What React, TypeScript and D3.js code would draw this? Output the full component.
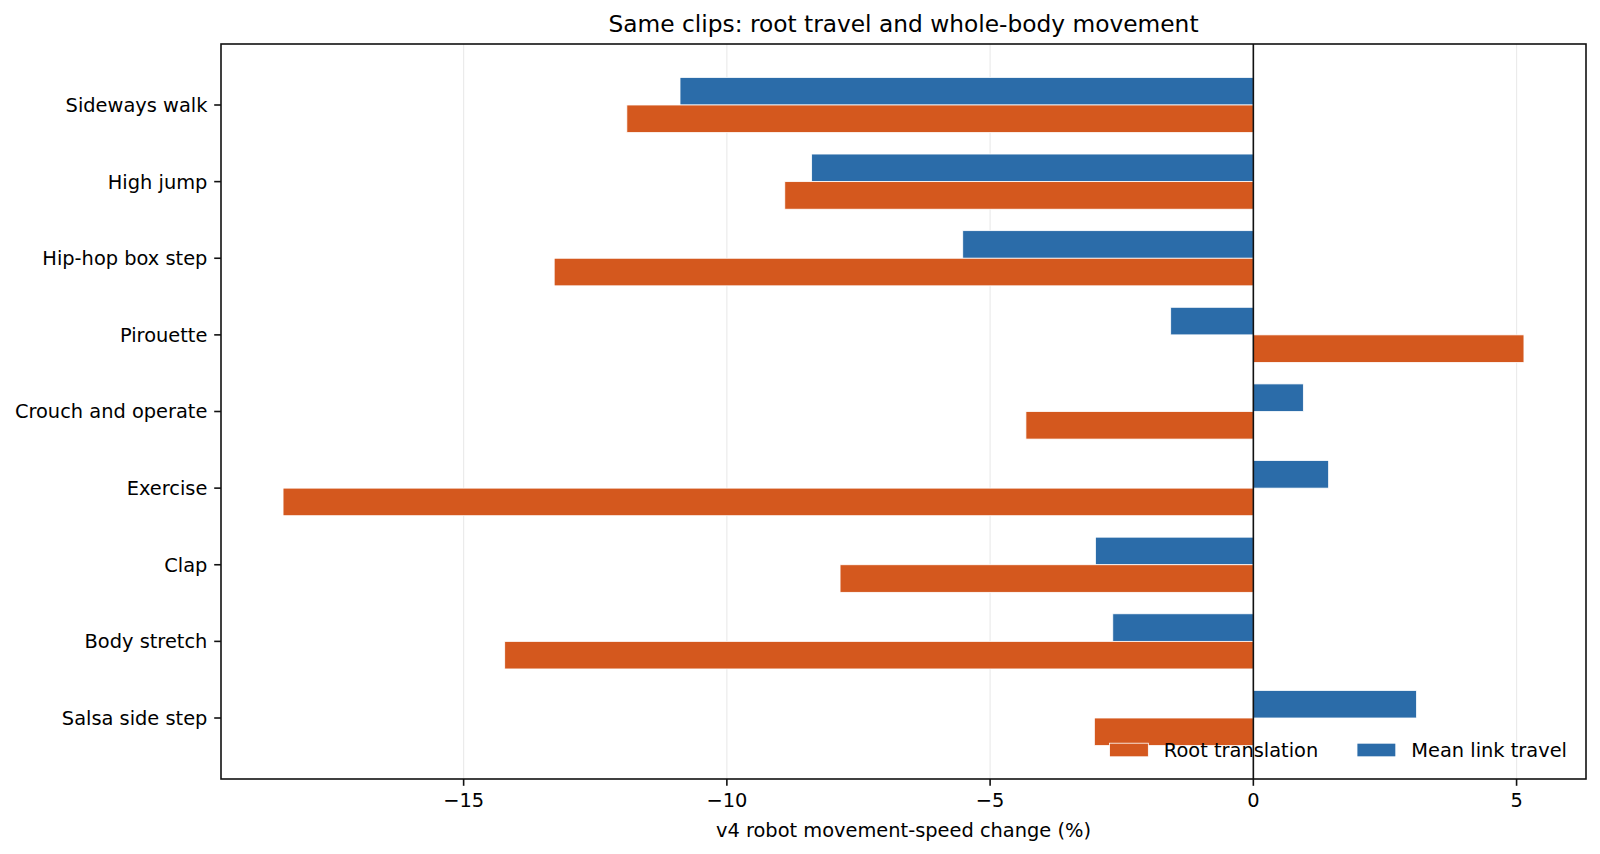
import React, { useEffect, useRef } from "react"
import * as d3 from "d3"

const WIDTH = 1600
const HEIGHT = 854
const MARGIN = { top: 44, right: 14, bottom: 75, left: 221 }

const categories = [
    "Sideways walk",
    "High jump",
    "Hip-hop box step",
    "Pirouette",
    "Crouch and operate",
    "Exercise",
    "Clap",
    "Body stretch",
    "Salsa side step",
]
const rootTranslation = [-11.9, -8.9, -13.28, 5.14, -4.32, -18.43, -7.85, -14.22, -3.02]
const meanLinkTravel = [-10.89, -8.39, -5.52, -1.57, 0.95, 1.43, -3.0, -2.67, 3.1]
const xTicks = [-15, -10, -5, 0, 5]

const ORANGE = "#d4581e"
const BLUE = "#2b6ca9"
const FONT = "DejaVu Sans, sans-serif"
const FS = 19.4
const BAR_H = 0.36

const App: React.FC = () => {
    const svgRef = useRef<SVGSVGElement | null>(null)

    useEffect(() => {
        document.body.style.margin = "0"
        if (!svgRef.current) return
        const svg = d3.select(svgRef.current)
        svg.selectAll("*").remove()

        const left = MARGIN.left
        const right = WIDTH - MARGIN.right
        const top = MARGIN.top
        const bottom = HEIGHT - MARGIN.bottom

        // x範囲：matplotlib風に5%余白
        const all = [...rootTranslation, ...meanLinkTravel, 0]
        const lo = d3.min(all)!
        const hi = d3.max(all)!
        const pad = (hi - lo) * 0.05
        const x = d3.scaleLinear().domain([lo - pad, hi + pad]).range([left, right])

        const yLo = -BAR_H
        const yHi = categories.length - 1 + BAR_H
        const yPad = (yHi - yLo) * 0.05
        const y = d3.scaleLinear().domain([yLo - yPad, yHi + yPad]).range([top, bottom])

        // グリッド
        svg.append("g")
            .selectAll("line")
            .data(xTicks)
            .enter()
            .append("line")
            .attr("x1", d => x(d))
            .attr("x2", d => x(d))
            .attr("y1", top)
            .attr("y2", bottom)
            .attr("stroke", "#ebebeb")
            .attr("stroke-width", 1.2)

        // バー
        const bars = svg.append("g")
        bars.selectAll("rect.blue")
            .data(meanLinkTravel)
            .enter()
            .append("rect")
            .attr("class", "blue")
            .attr("x", d => x(Math.min(0, d)))
            .attr("width", d => Math.abs(x(d) - x(0)))
            .attr("y", (_, i) => y(i - BAR_H))
            .attr("height", y(BAR_H) - y(0))
            .attr("fill", BLUE)
            .attr("stroke", "white")
            .attr("stroke-width", 0.8)
        bars.selectAll("rect.orange")
            .data(rootTranslation)
            .enter()
            .append("rect")
            .attr("class", "orange")
            .attr("x", d => x(Math.min(0, d)))
            .attr("width", d => Math.abs(x(d) - x(0)))
            .attr("y", (_, i) => y(i))
            .attr("height", y(BAR_H) - y(0))
            .attr("fill", ORANGE)
            .attr("stroke", "white")
            .attr("stroke-width", 0.8)

        // ゼロ線
        svg.append("line")
            .attr("x1", x(0))
            .attr("x2", x(0))
            .attr("y1", top)
            .attr("y2", bottom)
            .attr("stroke", "#111")
            .attr("stroke-width", 1.6)

        // 枠
        svg.append("rect")
            .attr("x", left)
            .attr("y", top)
            .attr("width", right - left)
            .attr("height", bottom - top)
            .attr("fill", "none")
            .attr("stroke", "#111")
            .attr("stroke-width", 1.6)

        // x軸
        const xAxis = svg.append("g")
        xTicks.forEach(t => {
            xAxis.append("line")
                .attr("x1", x(t))
                .attr("x2", x(t))
                .attr("y1", bottom)
                .attr("y2", bottom + 6.8)
                .attr("stroke", "#111")
                .attr("stroke-width", 1.6)
            xAxis.append("text")
                .attr("x", x(t))
                .attr("y", bottom + 13.6)
                .attr("dy", "0.76em")
                .attr("text-anchor", "middle")
                .attr("font-family", FONT)
                .attr("font-size", FS)
                .text(t < 0 ? `\u2212${Math.abs(t)}` : String(t))
        })

        // y軸
        const yAxis = svg.append("g")
        categories.forEach((c, i) => {
            yAxis.append("line")
                .attr("x1", left - 6.8)
                .attr("x2", left)
                .attr("y1", y(i))
                .attr("y2", y(i))
                .attr("stroke", "#111")
                .attr("stroke-width", 1.6)
            yAxis.append("text")
                .attr("x", left - 13.6)
                .attr("y", y(i))
                .attr("dy", "0.36em")
                .attr("text-anchor", "end")
                .attr("font-family", FONT)
                .attr("font-size", FS)
                .text(c)
        })

        svg.append("text")
            .attr("x", (left + right) / 2)
            .attr("y", 830)
            .attr("dy", "0.36em")
            .attr("text-anchor", "middle")
            .attr("font-family", FONT)
            .attr("font-size", FS)
            .text("v4 robot movement-speed change (%)")

        svg.append("text")
            .attr("x", (left + right) / 2)
            .attr("y", 24)
            .attr("dy", "0.36em")
            .attr("text-anchor", "middle")
            .attr("font-family", FONT)
            .attr("font-size", 23.3)
            .text("Same clips: root travel and whole-body movement")

        // 凡例（右下、枠なし）
        const legendItems = [
            { label: "Root translation", color: ORANGE },
            { label: "Mean link travel", color: BLUE },
        ]
        const legend = svg.append("g")
        const ly = 750
        let cx = right - 19
        for (let k = legendItems.length - 1; k >= 0; k--) {
            const item = legendItems[k]
            const t = legend.append("text")
                .attr("y", ly)
                .attr("dy", "0.36em")
                .attr("text-anchor", "end")
                .attr("font-family", FONT)
                .attr("font-size", FS)
                .attr("x", cx)
                .text(item.label)
            const w = (t.node() as SVGTextElement).getComputedTextLength()
            const hx = cx - w - 15.5 - 38.8
            legend.append("rect")
                .attr("x", hx)
                .attr("y", ly - 6.8)
                .attr("width", 38.8)
                .attr("height", 13.6)
                .attr("fill", item.color)
                .attr("stroke", "white")
                .attr("stroke-width", 0.8)
            cx = hx - 38.8
        }
    }, [])

    return <svg ref={svgRef} width={WIDTH} height={HEIGHT} style={{ display: "block" }} />
}

export default App
